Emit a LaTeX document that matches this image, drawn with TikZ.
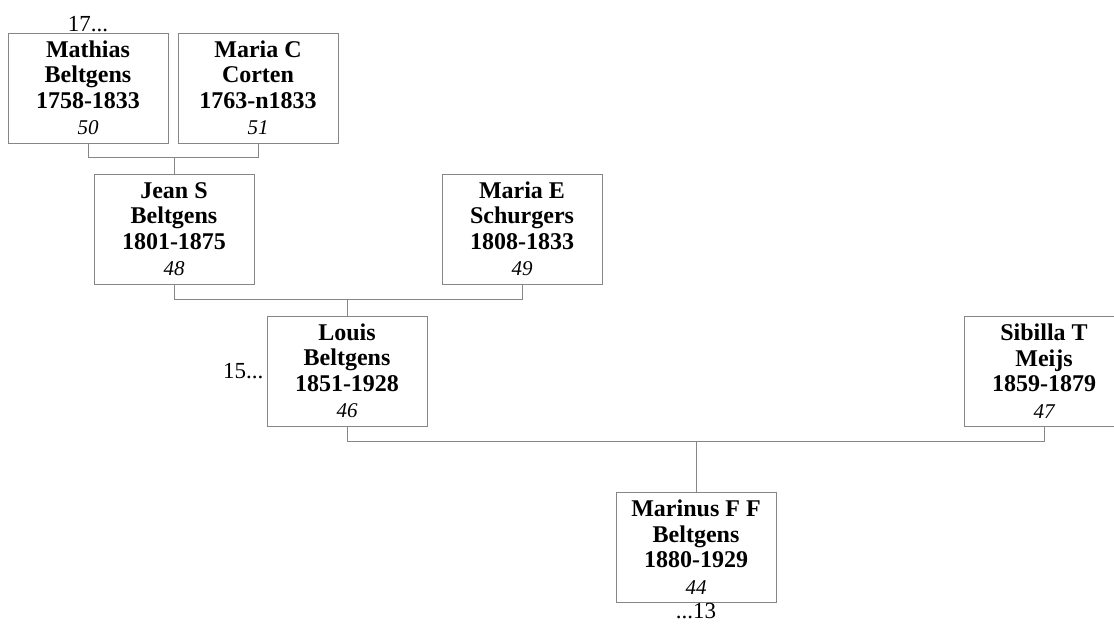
\documentclass[tikz,border=0pt]{standalone}
\usepackage{fontspec}
\setmainfont{Liberation Serif}
\usepackage{tikz}
\usetikzlibrary{positioning}

\begin{document}
\begin{tikzpicture}[x=1pt,y=-1pt,
    person/.style={draw=gray!95, line width=0.9pt, minimum width=160pt, minimum height=110pt,
      inner sep=0pt, align=center, font=\fontsize{24}{25.5}\selectfont\bfseries},
    gen/.style={font=\fontsize{23}{26}\selectfont, inner sep=0pt},
    link/.style={draw=gray!95, line width=0.9pt}]
          \useasboundingbox (0,0) rectangle (1114,627);
          \node[person] (M50) at (88, 88) {Mathias\\Beltgens\\1758-1833\\[1pt]{\fontsize{21}{20}\selectfont\mdseries\itshape 50}};
          \node[person] (C51) at (258, 88) {Maria C\\Corten\\1763-n1833\\[1pt]{\fontsize{21}{20}\selectfont\mdseries\itshape 51}};
          \node[person] (B48) at (174, 229) {Jean S\\Beltgens\\1801-1875\\[1pt]{\fontsize{21}{20}\selectfont\mdseries\itshape 48}};
          \node[person] (S49) at (522, 229) {Maria E\\Schurgers\\1808-1833\\[1pt]{\fontsize{21}{20}\selectfont\mdseries\itshape 49}};
          \node[person] (B46) at (347, 371) {Louis\\Beltgens\\1851-1928\\[1pt]{\fontsize{21}{20}\selectfont\mdseries\itshape 46}};
          \node[person] (M47) at (1044, 371) {Sibilla T\\Meijs\\1859-1879\\[1pt]{\fontsize{21}{20}\selectfont\mdseries\itshape 47}};
          \node[person] (B44) at (696, 547) {Marinus F F\\Beltgens\\1880-1929\\[1pt]{\fontsize{21}{20}\selectfont\mdseries\itshape 44}};
          \node[gen, above=1pt of M50] (G17) {17...};
          \node[gen, left=3pt of B46] (G15) {15...};
          \node[gen, below=1pt of B44] (G13) {...13};
          \draw[link] (M50.south) -- ++(0,14) coordinate (J1) -| (C51.south);
          \draw[link] (B48.north) -- (B48.north |- J1);
          \draw[link] (B48.south) -- ++(0,15) coordinate (J2) -| (S49.south);
          \draw[link] (B46.north) -- (B46.north |- J2);
          \draw[link] (B46.south) -- ++(0,15) coordinate (J3) -| (M47.south);
          \draw[link] (B44.north) -- (B44.north |- J3);
        \end{tikzpicture}
\end{document}
